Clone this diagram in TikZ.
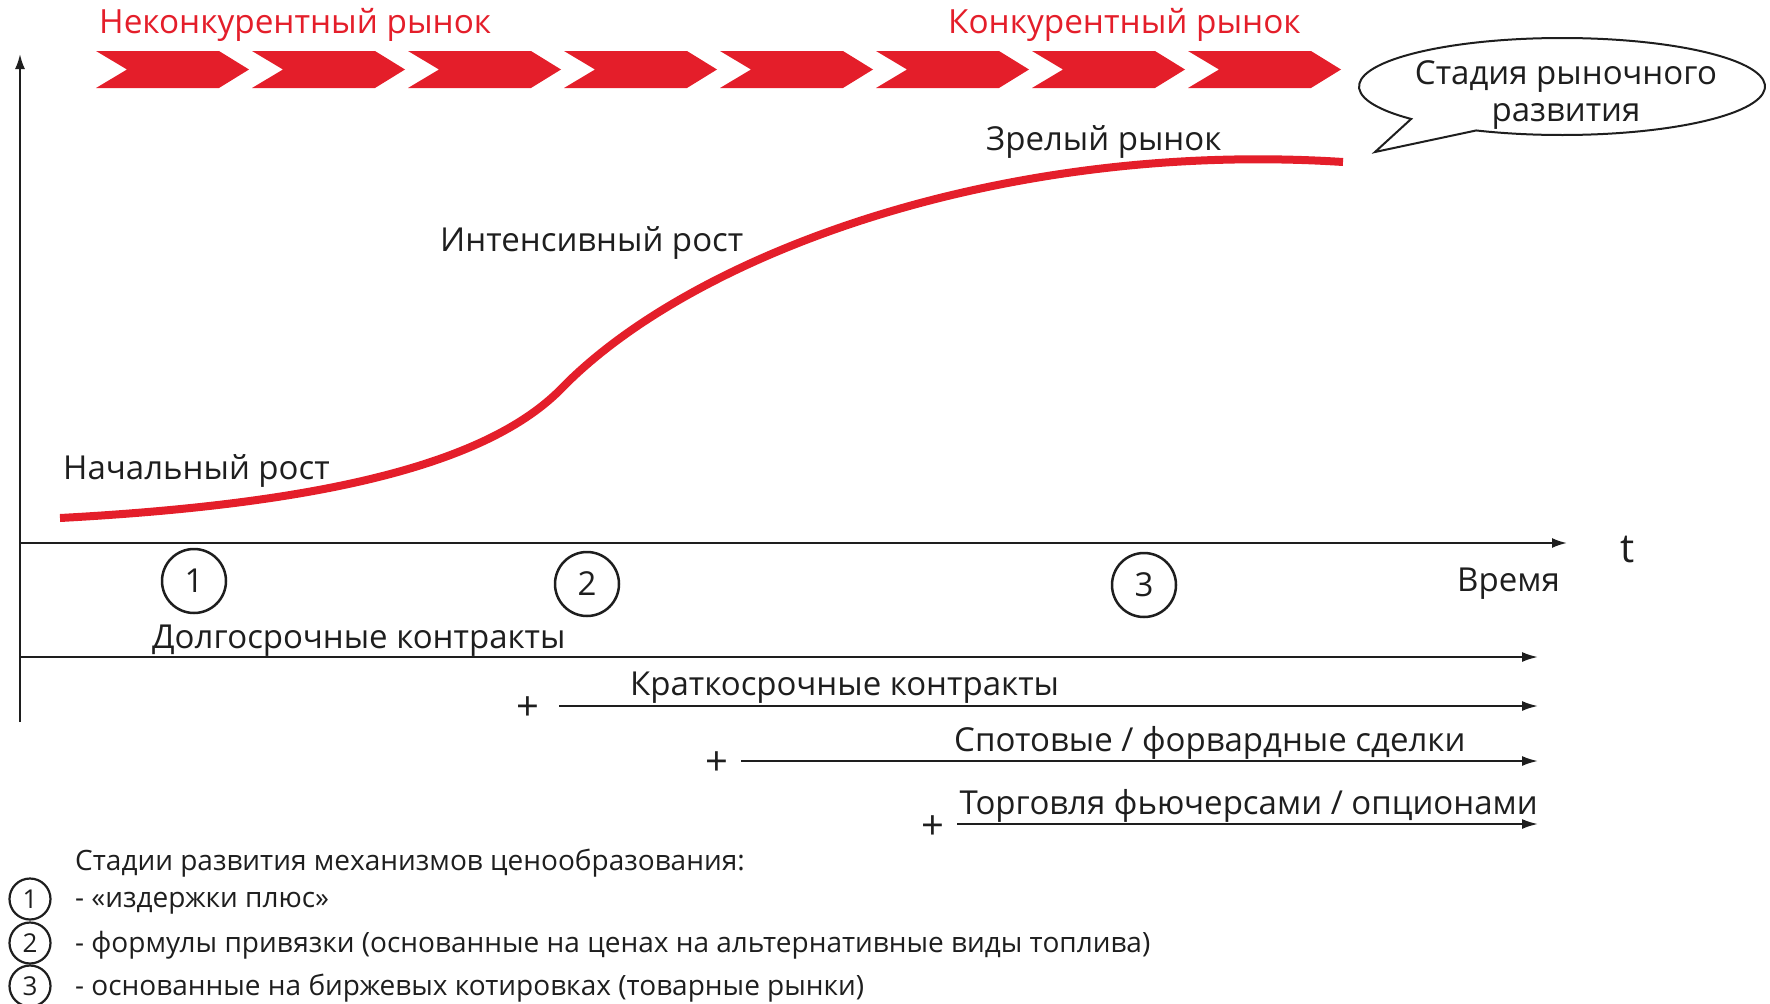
\documentclass[tikz,border=0pt]{standalone}
\usepackage{fontspec}
\setmainfont{Open Sans}
\usetikzlibrary{arrows.meta}
\definecolor{mred}{RGB}{228,30,42}
\definecolor{ink}{RGB}{30,30,30}
\begin{document}
\begin{tikzpicture}[x=1pt,y=-1pt,
  lbl/.style={font=\fontsize{33}{38}\selectfont, text=ink, inner sep=0pt, anchor=west},
  leg/.style={font=\fontsize{28}{32}\selectfont, text=ink, inner sep=0pt, anchor=west},
  title/.style={font=\fontsize{33.3}{38}\selectfont, text=mred, inner sep=0pt, anchor=west},
  axis/.style={line width=2pt, draw=ink, -{Latex[length=15pt,width=10pt]}},
  tline/.style={line width=2pt, draw=ink, -{Latex[length=16pt,width=10pt]}},
  bignum/.style={circle, draw=ink, line width=2.5pt, minimum size=64pt, inner sep=0pt, font=\fontsize{33}{36}\selectfont, text=ink},
  smallnum/.style={circle, draw=ink, line width=2.2pt, minimum size=41pt, inner sep=0pt, font=\fontsize{26}{28}\selectfont, text=ink},
  plus/.style={font=\fontsize{40}{44}\selectfont, text=ink, inner sep=0pt},
  chev/.style={fill=mred, draw=none}
]
\useasboundingbox (0,0) rectangle (1770,1004);

% titles
\node[title] (nk) at (99,25) {Неконкурентный рынок};
\node[title] (k) at (948,25) {Конкурентный рынок};

% chevrons
\foreach \i in {0,...,7}{
  \pgfmathsetmacro{\xo}{96+156*\i}
  \fill[chev] (\xo,51) -- (\xo+123,51) -- (\xo+153,69.5) -- (\xo+123,88) -- (\xo,88) -- (\xo+31,69.5) -- cycle;
}

% speech bubble
\draw[line width=2pt, draw=ink, fill=white] (1562,86.5) ++(138:203 and 48.5) arc[start angle=138, end angle=475, x radius=203, y radius=48.5] -- (1375,152) -- cycle;
\node[font=\fontsize{33}{37}\selectfont, text=ink, align=center, inner sep=0pt] (bubble) at (1566,95) {Стадия рыночного\\развития};

% axes
\coordinate (O) at (20,543);
\coordinate (ybot) at (20,722);
\coordinate (ytop) at (20,54);
\coordinate (xend) at (1567,543);
\draw[axis] (ybot) -- (ytop);
\draw[axis] (O) -- (xend);
\node[font=\fontsize{40}{44}\selectfont, text=ink, inner sep=0pt] (t) at (1628,550) {t};
\node[lbl] (time) at (1457,584) {Время};

% curve
\coordinate (cs) at (60,518);
\coordinate (ci) at (560,390);
\coordinate (ce) at (1343,162);
\draw[mred, line width=8pt] (cs) .. controls (300,505) and (480,470) .. (ci)
  .. controls (690,255) and (1000,140) .. (ce);

% curve labels
\node[lbl] (l1) at (63,471) {Начальный рост};
\node[lbl] (l2) at (440,243) {Интенсивный рост};
\node[lbl] (l3) at (986,142) {Зрелый рынок};

% stage circles
\node[bignum] (c1) at (194,581) {1};
\node[bignum] (c2) at (587,584) {2};
\node[bignum] (c3) at (1144,585) {3};

% timelines
\coordinate (a1s) at (20,657);
\coordinate (a1e) at (1538,657);
\draw[tline] (a1s) -- (a1e);
\node[lbl] (t1) at (152,641) {Долгосрочные контракты};

\node[plus] (p2) at (528,709) {+};
\coordinate (a2s) at (559,706);
\coordinate (a2e) at (1538,706);
\draw[tline] (a2s) -- (a2e);
\node[lbl] (t2) at (630,688) {Краткосрочные контракты};

\node[plus] (p3) at (717,764) {+};
\coordinate (a3s) at (741,761);
\coordinate (a3e) at (1538,761);
\draw[tline] (a3s) -- (a3e);
\node[lbl] (t3) at (954,743) {Спотовые / форвардные сделки};

\node[plus] (p4) at (933,828) {+};
\coordinate (a4s) at (957,824);
\coordinate (a4e) at (1538,824);
\draw[tline] (a4s) -- (a4e);
\node[lbl, anchor=east] (t4) at (1538,806) {Торговля фьючерсами / опционами};

% legend
\node[leg] (lg) at (75,863) {Стадии развития механизмов ценообразования:};
\node[smallnum] (s1) at (30,899) {1};
\node[leg] (lg1) at (75,903) {- «издержки плюс»};
\node[smallnum] (s2) at (30,943) {2};
\node[leg] (lg2) at (75,945) {- формулы привязки (основанные на ценах на альтернативные виды топлива)};
\node[smallnum] (s3) at (30,986) {3};
\node[leg] (lg3) at (75,988) {- основанные на биржевых котировках (товарные рынки)};
\end{tikzpicture}
\end{document}
